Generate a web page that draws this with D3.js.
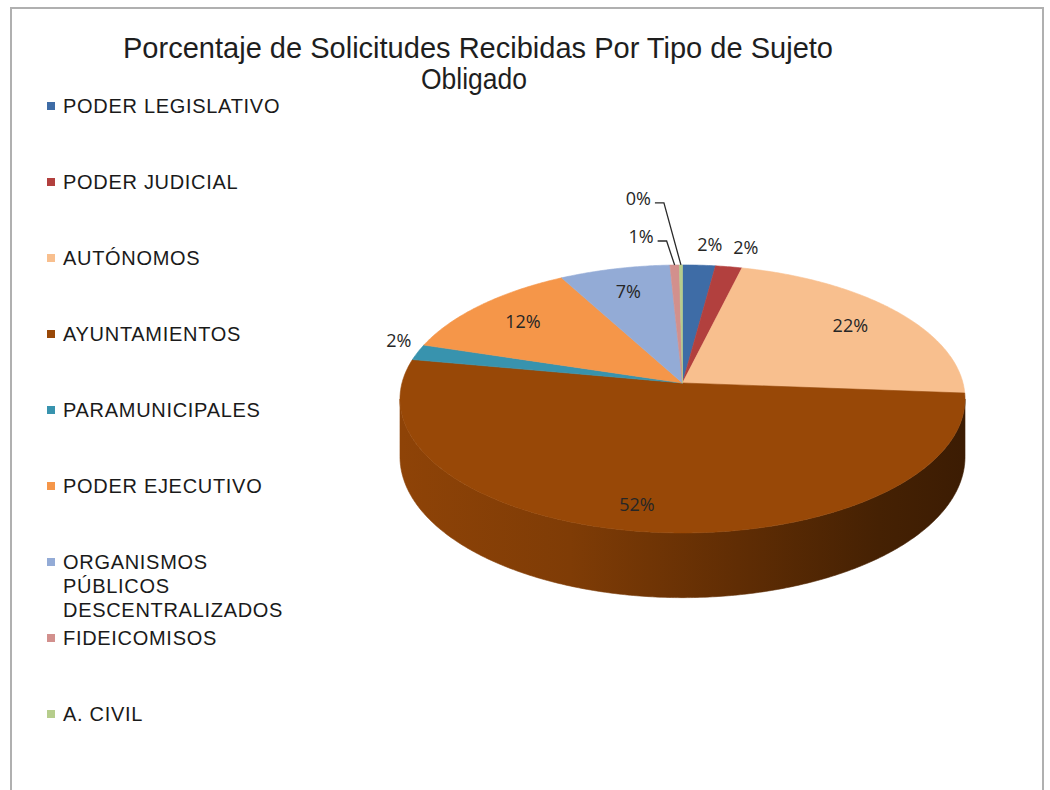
<!DOCTYPE html>
<html>
<head>
<meta charset="utf-8">
<script src="https://cdn.jsdelivr.net/npm/d3@7"></script>
<style>
  body { margin: 0; background: #fff; }
  svg { display: block; }
</style>
</head>
<body>
<div class="container"></div>
<script>
// values (percent of requests)
var names = ['PODER LEGISLATIVO', 'PODER JUDICIAL', 'AUTÓNOMOS', 'AYUNTAMIENTOS', 'PARAMUNICIPALES',
  'PODER EJECUTIVO', 'ORGANISMOS PÚBLICOS DESCENTRALIZADOS', 'FIDEICOMISOS', 'A. CIVIL']
var values = [2.1, 1.7, 22.4, 51.7, 1.9, 12.3, 7.1, 0.6, 0.2]
var colors = ['#3e6ca6', '#b2403e', '#f8bf8e', '#984807', '#3893ae', '#f59649', '#93abd6', '#d2908d', '#b6cd8c']
var titleLines = ['Porcentaje de Solicitudes Recibidas Por Tipo de Sujeto', 'Obligado']

var width = 1050, height = 790
var data = names.map((name, i) => ({name, value: values[i], color: colors[i]}))
var total = d3.sum(values)

var svg = d3.select('.container').append('svg')
  .attr('width', width).attr('height', height)

svg.append('rect')
  .attr('x', 11).attr('y', 8).attr('width', 1032).attr('height', 820)
  .attr('fill', 'none').attr('stroke', '#b0b0b0').attr('stroke-width', 2)

// title
svg.append('g').selectAll('text').data(titleLines).join('text')
  .attr('x', (d, i) => i ? 474 : 478)
  .attr('y', (d, i) => 58 + i * 31)
  .attr('text-anchor', 'middle')
  .attr('textLength', (d, i) => i ? 106 : 710)
  .attr('lengthAdjust', 'spacingAndGlyphs')
  .style('font-family', '"Liberation Sans Narrow", "Liberation Sans", Arial, sans-serif')
  .style('font-size', '30px')
  .attr('fill', '#1e1e1e')
  .text(d => d)

// legend
var legendY = d3.scaleLinear().domain([0, data.length - 1]).range([106, 714])
var legend = svg.append('g').selectAll('g').data(data).join('g')
  .attr('transform', (d, i) => `translate(47,${legendY(i)})`)

legend.append('rect')
  .attr('x', 0).attr('y', -4).attr('width', 8).attr('height', 8)
  .attr('fill', d => d.color)

legend.append('text')
  .attr('x', 16).attr('dy', '0.36em')
  .style('font-family', '"Liberation Sans", Arial, sans-serif')
  .style('font-size', '20px')
  .style('letter-spacing', '0.7px')
  .attr('fill', '#1a1a1a')
  .each(function(d){
    var sel = d3.select(this), words = d.name.split(' '), line = []
    var tspan = sel.append('tspan').attr('x', 16)
    words.forEach(w => {
      line.push(w)
      tspan.text(line.join(' '))
      if (this.getComputedTextLength() > 240 && line.length > 1){
        line.pop()
        tspan.text(line.join(' '))
        line = [w]
        tspan = sel.append('tspan').attr('x', 16).attr('dy', 24).text(w)
      }
    })
  })

// 3d pie, perspective projection of a tilted disc
var cx = 682.5, cy = 383, rx = 280.5, ry = 132.1, persp = 0.119, depth = 57
function proj(a, f, drop){
  var u = f * Math.sin(a), v = f * Math.cos(a), w = 1 + persp * v
  return [cx + rx * u / w, cy - ry * v / w + (drop || 0) / w]
}
function arcPts(a0, a1, f, drop){
  var n = Math.max(2, Math.ceil((a1 - a0) / 0.01))
  return d3.range(n + 1).map(i => proj(a0 + (a1 - a0) * i / n, f, drop))
}

var arcs = d3.pie().sort(null).value(d => d.value)(data)

var defs = svg.append('defs')
arcs.forEach((d, i) => {
  var c = d3.color(d.data.color)
  var g = defs.append('linearGradient').attr('id', 'side' + i)
    .attr('gradientUnits', 'userSpaceOnUse')
    .attr('x1', cx - rx).attr('x2', cx + rx).attr('y1', 0).attr('y2', 0)
  ;[[0, 0.2], [0.3, 0.5], [0.6, 1.3], [0.85, 2.2], [1, 2.6]].forEach(s => {
    g.append('stop').attr('offset', s[0]).attr('stop-color', c.darker(s[1]).formatHex())
  })
})

var pie = svg.append('g')
var aR = Math.acos(-persp), aL = 2 * Math.PI - aR
var line = d3.line()

// visible outer walls
arcs.forEach((d, i) => {
  var s = Math.max(d.startAngle, aR), e = Math.min(d.endAngle, aL)
  if (s >= e) return
  var pts = arcPts(s, e, 1, 0).concat(arcPts(s, e, 1, depth).reverse())
  pie.append('path')
    .attr('d', line(pts) + 'Z')
    .attr('fill', `url(#side${i})`)
    .attr('stroke', `url(#side${i})`).attr('stroke-width', 0.6)
})

// top faces
pie.selectAll('path.top').data(arcs).join('path')
  .attr('class', 'top')
  .attr('d', d => line([[cx, cy]].concat(arcPts(d.startAngle, d.endAngle, 1, 0))) + 'Z')
  .attr('fill', d => d.data.color)
  .attr('stroke', d => d.data.color).attr('stroke-width', 0.6)

// data labels
var fmt = d3.format('.0%')
var labels = svg.append('g')
  .style('font-family', '"Open Sans", "Liberation Sans", sans-serif')
  .style('font-size', '18px')
  .attr('fill', '#262626')
var tinyCount = 0
arcs.forEach(d => {
  var p = d.value / total, mid = (d.startAngle + d.endAngle) / 2
  var txt = fmt(p)
  if (p >= 0.05){
    var c = proj(mid, p > 0.4 ? 0.84 : 0.78, 0)
    labels.append('text').attr('x', c[0] - (p > 0.4 ? 12 : 0)).attr('y', c[1])
      .attr('text-anchor', 'middle').attr('dy', '0.35em').text(txt)
  } else if (p >= 0.01){
    var e = proj(mid, 1, 0)
    var dx = e[0] - cx, dy = e[1] - cy, len = Math.hypot(dx, dy)
    dx /= len; dy /= len
    labels.append('text')
      .attr('x', e[0] + dx * 12 + dx * 15 + (dx > 0 ? 7 : 8))
      .attr('y', e[1] + dy * 12 + dy * 9 - (dx > 0 ? 0 : 9))
      .attr('text-anchor', 'middle').attr('dy', '0.35em').text(txt)
  } else {
    var j = tinyCount++
    var e = proj(mid, 1, 0)
    var elbow = [e[0] - 8 - j * 9, e[1] - 24 - j * 38]
    var end = [elbow[0] - 9, elbow[1]]
    labels.append('path')
      .attr('d', line([e, elbow, end]))
      .attr('fill', 'none').attr('stroke', '#2a2a2a').attr('stroke-width', 1.3)
    labels.append('text').attr('x', end[0] - 4).attr('y', end[1] - 4)
      .attr('text-anchor', 'end').attr('dy', '0.35em').text(txt)
  }
})
</script>
</body>
</html>
